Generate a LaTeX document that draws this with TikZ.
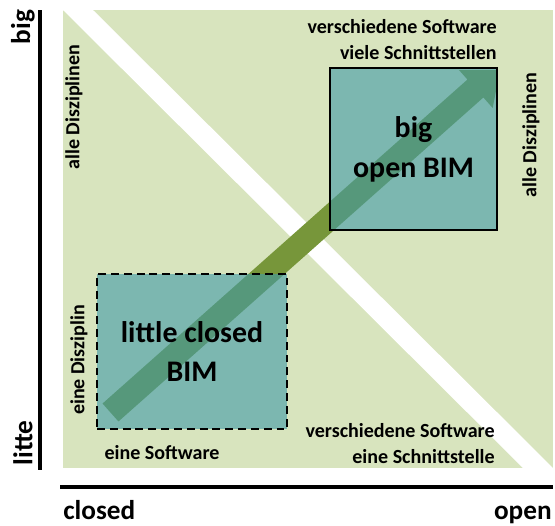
\documentclass[tikz,border=0pt]{standalone}
\usepackage{fontspec}
\setmainfont{Carlito}
\usetikzlibrary{arrows.meta,positioning}
\definecolor{meadow}{HTML}{D8E4BE}
\definecolor{olive}{HTML}{77963A}
\definecolor{lagoon}{HTML}{409AA7}

\begin{document}
\begin{tikzpicture}[x=0.02cm,y=-0.02cm,
   ax/.style={line width=1.8pt,black},
   axlab/.style={font=\fontsize{15.5}{18}\selectfont\bfseries,inner sep=0pt},
   tag/.style={font=\fontsize{11.4}{14.7}\selectfont\bfseries,inner sep=0pt},
   bim/.style={fill=lagoon,fill opacity=0.6,text opacity=1,draw=black,line width=1.1pt,
               align=center,inner sep=0pt,font=\fontsize{17}{22.7}\selectfont\bfseries}]
  \useasboundingbox (0,0) rectangle (555,525);
  % field and diagonal
  \fill[meadow] (63,10) rectangle (553,468);
  \fill[white] (63,10) -- (93,10) -- (553,468) -- (523,468) -- cycle;
  % growth arrow
  \begin{scope}
    \clip (0,70) rectangle (497,525);
    \fill[olive,shift={(110.5,412.5)},rotate=41.6]
      (0,-12) -- (488,-12) -- (488,-26) -- (522,0) -- (488,26) -- (488,12) -- (0,12) -- cycle;
  \end{scope}
  \node[bim,dash pattern=on 4.5pt off 2.8pt,minimum width=3.8cm,minimum height=3.1cm]
    (closedbim) at (192,351.5) {little closed\\BIM};
  \node[bim,minimum width=3.34cm,minimum height=3.24cm]
    (openbim) at (413.5,149) {big\\open BIM};
  % axes
  \draw[ax] (40,10) -- (40,470);
  \draw[ax] (60,487) -- (553,487);
  \node[axlab,rotate=90] (big) at (23,27) {big};
  \node[axlab,rotate=90] (litte) at (23,443) {litte};
  \node[axlab,anchor=base west] (closed) at (63,519) {closed};
  \node[axlab,anchor=base east] (open) at (552,519) {open};
  % corner notes
  \node[tag,rotate=90] (alleL) at (74,107) {alle Disziplinen};
  \node[tag,rotate=90] (alleR) at (531,135) {alle Disziplinen};
  \node[tag,rotate=90] (eineD) at (79,360) {eine Disziplin};
  \node[tag] (eineS) at (162,453) {eine Software};
  \node[tag,align=right,anchor=north east] (viele) at (497,19) {verschiedene Software\\viele Schnittstellen};
  \node[tag,align=right,anchor=north east] (eine) at (495,423) {verschiedene Software\\eine Schnittstelle};
\end{tikzpicture}
\end{document}
